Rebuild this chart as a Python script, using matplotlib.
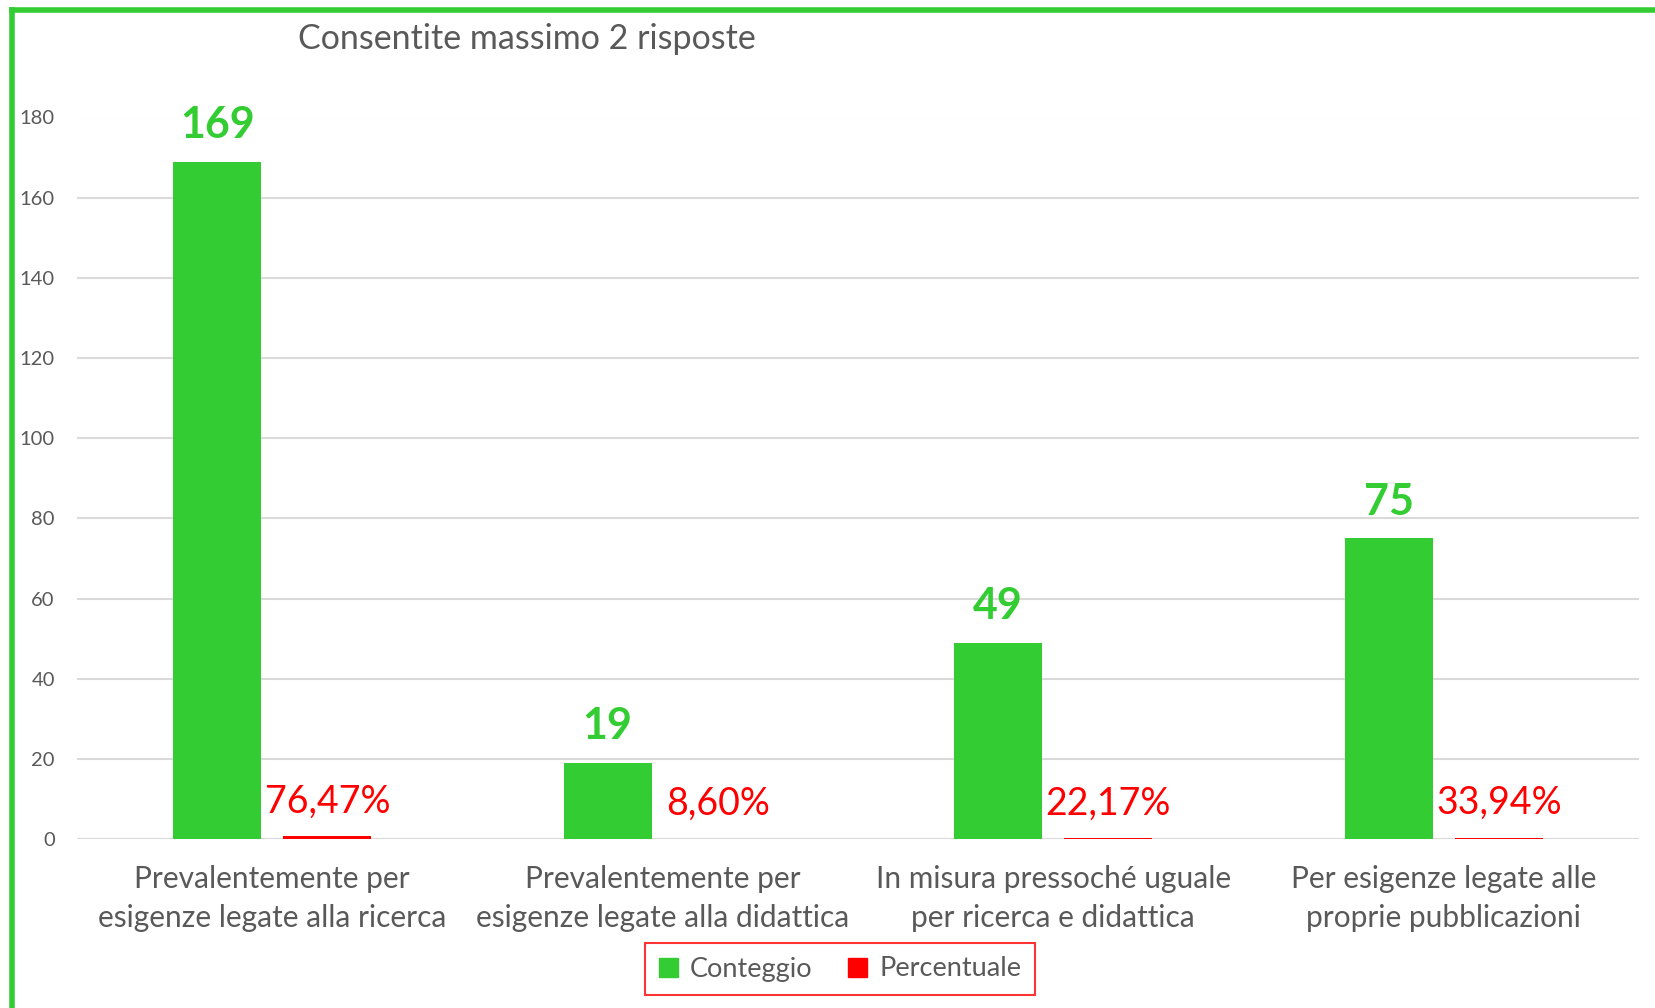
import matplotlib
matplotlib.use("Agg")
import matplotlib.pyplot as plt
import numpy as np
from matplotlib.lines import Line2D
from matplotlib.patches import Patch

plt.rcParams["font.family"] = ["Lato", "DejaVu Sans"]

# dati
categorie = ["Prevalentemente per\nesigenze legate alla ricerca",
             "Prevalentemente per\nesigenze legate alla didattica",
             "In misura pressoché uguale\nper ricerca e didattica",
             "Per esigenze legate alle\nproprie pubblicazioni"]
conteggio = [169, 19, 49, 75]
percentuale = [0.7647, 0.0860, 0.2217, 0.3394]
yticks = [0, 20, 40, 60, 80, 100, 120, 140, 160, 180]

verde = "#33CC33"
rosso = "#FF0000"
grigio = "#595959"

fig = plt.figure(figsize=(16.56, 10.08), dpi=100)
ax = fig.add_axes([77 / 1656, 1 - 839 / 1008, (1639 - 77) / 1656, (839 - 117.5) / 1008])

x = np.arange(len(categorie))
w = 0.225
off = 0.141
ax.bar(x - off, conteggio, width=w, color=verde, label="Conteggio", zorder=3)
ax.bar(x + off, percentuale, width=w, color=rosso, label="Percentuale", zorder=3)

for xi, v in zip(x, conteggio):
    ax.annotate(str(v), (xi - off, v), xytext=(0, 17), textcoords="offset points",
                ha="center", va="baseline", fontsize=31, fontweight="bold", color=verde)
for xi, v in zip(x, percentuale):
    testo = f"{v * 100:.2f}".replace(".", ",") + "%"
    ax.annotate(testo, (xi + off, v), xytext=(0, 17), textcoords="offset points",
                ha="center", va="baseline", fontsize=27, color=rosso)

ax.set_xlim(-0.5, len(categorie) - 0.5)
ax.set_ylim(0, 180)
ax.set_yticks(yticks)
ax.set_xticks(x)
ax.set_xticklabels(categorie, fontsize=21.5, color=grigio, linespacing=1.47)
ax.tick_params(axis="x", length=0, pad=18.5)
ax.tick_params(axis="y", length=0, pad=16, labelsize=14.5, labelcolor=grigio)
ax.grid(axis="y", color="#d9d9d9", linewidth=1.5, zorder=0)
ax.set_axisbelow(True)
for s in ax.spines.values():
    s.set_visible(False)

fig.text(527 / 1656, 1 - 39 / 1008, "Consentite massimo 2 risposte", ha="center", va="center",
         fontsize=24.5, color=grigio)

handles = [Patch(color=verde, label="Conteggio"), Patch(color=rosso, label="Percentuale")]
leg = fig.legend(handles=handles, loc="center", bbox_to_anchor=(840 / 1656, 1 - 969 / 1008),
                 ncol=2, fontsize=19.5, frameon=True, fancybox=False, handlelength=0.7,
                 handleheight=0.7, handletextpad=0.45, columnspacing=1.3, borderpad=0.5,
                 borderaxespad=0)
for t in leg.get_texts():
    t.set_color(grigio)
leg.get_frame().set_edgecolor(rosso)
leg.get_frame().set_linewidth(1.5)

# cornice verde (solo lati sinistro e superiore visibili)
fig.add_artist(Line2D([12 / 1656, 12 / 1656], [0, 1 - 9.5 / 1008], transform=fig.transFigure,
                      color=verde, linewidth=4, solid_capstyle="projecting"))
fig.add_artist(Line2D([12 / 1656, 1], [1 - 9.5 / 1008, 1 - 9.5 / 1008], transform=fig.transFigure,
                      color=verde, linewidth=4, solid_capstyle="projecting"))

fig.savefig("out.png", dpi=100)
